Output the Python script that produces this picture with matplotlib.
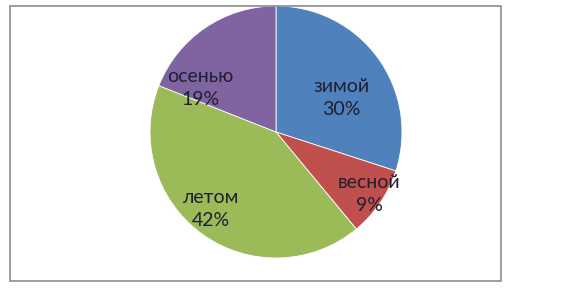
import matplotlib
matplotlib.use("Agg")
import matplotlib.pyplot as plt
from matplotlib.patches import Rectangle

seasons = ["зимой", "весной", "летом", "осенью"]
shares = [30, 9, 42, 19]
colors = ["#4F81BD", "#C0504D", "#9BBB59", "#8064A2"]

# label offsets (x, y) in pie-radius units, where Excel placed them
label_pos = [(0.52, 0.27), (0.74, -0.49), (-0.52, -0.61), (-0.60, 0.35)]

W, H = 566, 292
fig = plt.figure(figsize=(W / 100, H / 100), dpi=100)

# gray chart frame
fig.patches.append(Rectangle((10 / W, 11 / H), 491 / W, 275 / H,
                             transform=fig.transFigure, fill=False,
                             edgecolor="#8c8c8c", linewidth=1.2))

cx, cy, r = 276, 132, 126
ax = fig.add_axes([(cx - r) / W, (H - cy - r) / H, 2 * r / W, 2 * r / H])

wedges, _ = ax.pie(shares, colors=colors, startangle=90, counterclock=False,
                   radius=1.0, wedgeprops=dict(edgecolor="white", linewidth=0.6))

for name, val, (lx, ly) in zip(seasons, shares, label_pos):
    ax.text(lx, ly, f"{name}\n{val}%", ha="center", va="center",
            fontsize=14, family=["Lato", "DejaVu Sans"], color="#1f1f2e",
            linespacing=1.45)

ax.set_xlim(-1, 1)
ax.set_ylim(-1, 1)
ax.set_aspect("equal")
ax.axis("off")

fig.savefig("out.png", dpi=100)
